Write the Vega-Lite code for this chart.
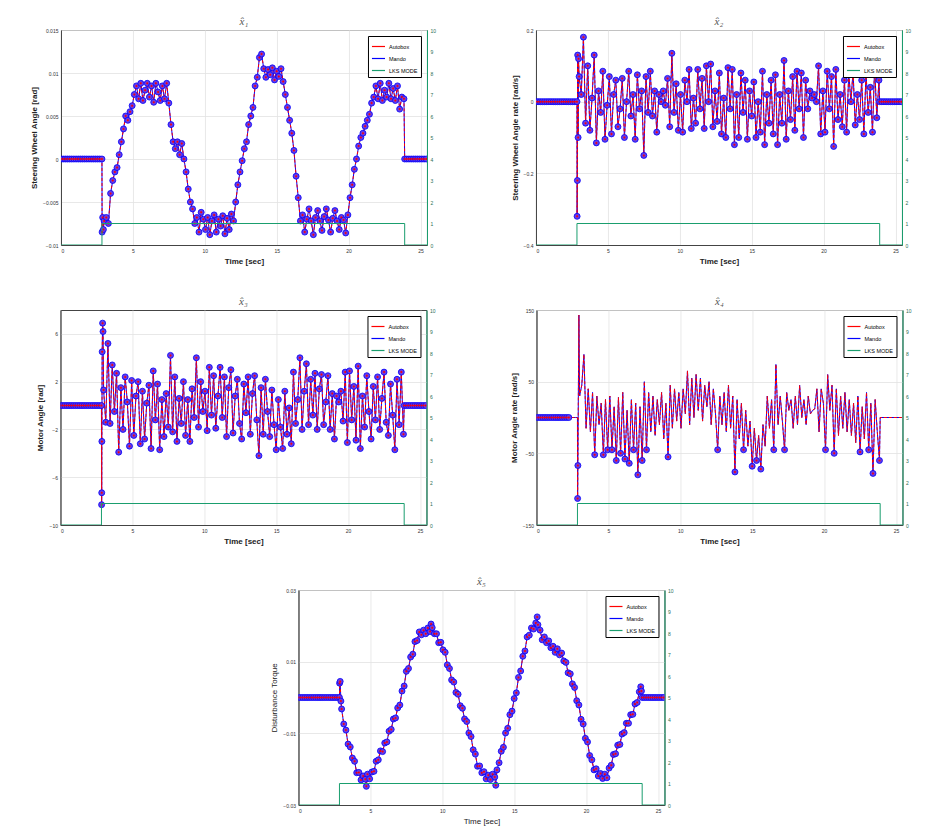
{
"$schema":"https://vega.github.io/schema/vega-lite/v6.json",
"background":"white",
"padding":{"left":30,"top":15,"right":5,"bottom":5},
"config":{"font":"Liberation Sans","view":{"stroke":"#444","strokeWidth":1},
"axis":{"labelFontSize":5,"labelColor":"#333","ticks":false,"labelPadding":3,"labelOverlap":false,"titleFontSize":8,"titleFontWeight":"bold","titleColor":"#222","gridColor":"#e2e2e2","gridWidth":0.8,"domainColor":"#444","titlePadding":4},
"legend":{"orient":"top-right","offset":6,"padding":3,"strokeColor":"#000","fillColor":"#fff","labelFontSize":5.5,"symbolType":"stroke","symbolSize":170,"symbolStrokeWidth":1.2,"rowPadding":1,"labelOffset":3},
"title":{"font":"Liberation Serif","fontStyle":"italic","fontSize":11,"fontWeight":"normal","color":"#555","offset":1}},
"datasets":{
"lks":[{"t":0,"m":0},{"t":2.85,"m":1},{"t":23.9,"m":0},{"t":25.45,"m":0}],
"p1":[{"t":0,"v":0},{"t":0.15,"v":0},{"t":0.3,"v":0},{"t":0.45,"v":0},{"t":0.6,"v":0},{"t":0.75,"v":0},{"t":0.9,"v":0},{"t":1.05,"v":0},{"t":1.2,"v":0},{"t":1.35,"v":0},{"t":1.5,"v":0},{"t":1.65,"v":0},{"t":1.8,"v":0},{"t":1.95,"v":0},{"t":2.1,"v":0},{"t":2.25,"v":0},{"t":2.4,"v":0},{"t":2.55,"v":0},{"t":2.7,"v":0},{"t":2.85,"v":0},
{"t":2.86,"v":-0.0085},{"t":2.9,"v":-0.0068},{"t":2.95,"v":-0.0082},
{"t":3.0,"v":-0.0072},{"t":3.15,"v":-0.0068},{"t":3.3,"v":-0.0075},{"t":3.45,"v":-0.004},{"t":3.6,"v":-0.0025},{"t":3.75,"v":-0.0015},{"t":3.9,"v":-0.001},{"t":4.05,"v":0.0005},{"t":4.2,"v":0.002},{"t":4.35,"v":0.0035},{"t":4.5,"v":0.005},{"t":4.65,"v":0.0045},{"t":4.8,"v":0.0055},{"t":4.95,"v":0.0062},
{"t":5.1,"v":0.0075},{"t":5.25,"v":0.0085},{"t":5.4,"v":0.007},{"t":5.55,"v":0.0088},{"t":5.7,"v":0.0068},{"t":5.85,"v":0.008},{"t":6.0,"v":0.0088},{"t":6.15,"v":0.0072},{"t":6.3,"v":0.0085},{"t":6.45,"v":0.0066},{"t":6.6,"v":0.0088},{"t":6.75,"v":0.0078},{"t":6.9,"v":0.0068},{"t":7.05,"v":0.0085},{"t":7.2,"v":0.007},{"t":7.35,"v":0.0088},{"t":7.5,"v":0.0065},{"t":7.65,"v":0.004},{"t":7.8,"v":0.002},{"t":7.95,"v":0.0012},
{"t":8.1,"v":0.002},{"t":8.25,"v":0.0005},{"t":8.4,"v":0.0018},{"t":8.55,"v":0},{"t":8.7,"v":-0.0015},{"t":8.85,"v":-0.0035},{"t":9.0,"v":-0.005},{"t":9.15,"v":-0.0058},{"t":9.3,"v":-0.0075},{"t":9.45,"v":-0.0068},{"t":9.6,"v":-0.0085},{"t":9.75,"v":-0.0062},{"t":9.9,"v":-0.007},{"t":10.05,"v":-0.0082},{"t":10.2,"v":-0.0068},{"t":10.35,"v":-0.0088},{"t":10.5,"v":-0.0072},{"t":10.65,"v":-0.0065},{"t":10.8,"v":-0.0085},{"t":10.95,"v":-0.007},
{"t":11.1,"v":-0.0078},{"t":11.25,"v":-0.0066},{"t":11.4,"v":-0.0087},{"t":11.55,"v":-0.0069},{"t":11.7,"v":-0.0082},{"t":11.85,"v":-0.0064},{"t":12.0,"v":-0.0072},{"t":12.15,"v":-0.005},{"t":12.3,"v":-0.003},{"t":12.45,"v":-0.0015},{"t":12.6,"v":-0.0002},{"t":12.75,"v":0.0012},{"t":12.9,"v":0.002},{"t":13.05,"v":0.004},{"t":13.2,"v":0.005},{"t":13.35,"v":0.006},{"t":13.5,"v":0.0085},{"t":13.65,"v":0.0095},{"t":13.8,"v":0.0118},{"t":13.95,"v":0.0122},
{"t":14.1,"v":0.0105},{"t":14.25,"v":0.0095},{"t":14.4,"v":0.0104},{"t":14.55,"v":0.0098},{"t":14.7,"v":0.0106},{"t":14.85,"v":0.0092},{"t":15.0,"v":0.0102},{"t":15.15,"v":0.0096},{"t":15.3,"v":0.0105},{"t":15.45,"v":0.009},{"t":15.6,"v":0.0075},{"t":15.75,"v":0.006},{"t":15.9,"v":0.0045},{"t":16.05,"v":0.003},{"t":16.2,"v":0.001},{"t":16.35,"v":-0.002},{"t":16.5,"v":-0.0045},{"t":16.65,"v":-0.0072},{"t":16.8,"v":-0.0065},{"t":16.95,"v":-0.0085},
{"t":17.1,"v":-0.007},{"t":17.25,"v":-0.0058},{"t":17.4,"v":-0.0072},{"t":17.55,"v":-0.0088},{"t":17.7,"v":-0.0068},{"t":17.85,"v":-0.006},{"t":18.0,"v":-0.0072},{"t":18.15,"v":-0.0083},{"t":18.3,"v":-0.0067},{"t":18.45,"v":-0.0058},{"t":18.6,"v":-0.0071},{"t":18.75,"v":-0.0085},{"t":18.9,"v":-0.0069},{"t":19.05,"v":-0.006},{"t":19.2,"v":-0.0072},{"t":19.35,"v":-0.0082},{"t":19.5,"v":-0.0068},{"t":19.65,"v":-0.0071},{"t":19.8,"v":-0.0086},{"t":19.95,"v":-0.0065},
{"t":20.1,"v":-0.0045},{"t":20.25,"v":-0.003},{"t":20.4,"v":-0.0012},{"t":20.55,"v":0},{"t":20.7,"v":0.0015},{"t":20.85,"v":0.0025},{"t":21.0,"v":0.003},{"t":21.15,"v":0.0038},{"t":21.3,"v":0.0045},{"t":21.45,"v":0.0052},{"t":21.6,"v":0.0065},{"t":21.75,"v":0.0072},{"t":21.9,"v":0.0085},{"t":22.05,"v":0.007},{"t":22.2,"v":0.0088},{"t":22.35,"v":0.0068},{"t":22.5,"v":0.008},{"t":22.65,"v":0.0072},{"t":22.8,"v":0.0088},{"t":22.95,"v":0.007},
{"t":23.1,"v":0.0082},{"t":23.25,"v":0.0068},{"t":23.4,"v":0.0085},{"t":23.55,"v":0.0058},{"t":23.7,"v":0.0072},{"t":23.85,"v":0.007},
{"t":23.9,"v":0},{"t":24.05,"v":0},{"t":24.2,"v":0},{"t":24.35,"v":0},{"t":24.5,"v":0},{"t":24.65,"v":0},{"t":24.8,"v":0},{"t":24.95,"v":0},{"t":25.1,"v":0},{"t":25.25,"v":0},{"t":25.4,"v":0}],
"p2":[{"t":0,"v":0},{"t":0.15,"v":0},{"t":0.3,"v":0},{"t":0.45,"v":0},{"t":0.6,"v":0},{"t":0.75,"v":0},{"t":0.9,"v":0},{"t":1.05,"v":0},{"t":1.2,"v":0},{"t":1.35,"v":0},{"t":1.5,"v":0},{"t":1.65,"v":0},{"t":1.8,"v":0},{"t":1.95,"v":0},{"t":2.1,"v":0},{"t":2.25,"v":0},{"t":2.4,"v":0},{"t":2.55,"v":0},{"t":2.7,"v":0},{"t":2.85,"v":0},
{"t":2.86,"v":-0.32},{"t":2.88,"v":-0.22},{"t":2.9,"v":0.13},{"t":2.93,"v":-0.1},{"t":2.96,"v":0.12},
{"t":3.0,"v":0.07},{"t":3.15,"v":0.02},{"t":3.3,"v":0.18},{"t":3.45,"v":-0.06},{"t":3.6,"v":0.1},{"t":3.75,"v":-0.08},{"t":3.9,"v":0.01},{"t":4.05,"v":0.13},{"t":4.2,"v":-0.115},{"t":4.35,"v":0.03},{"t":4.5,"v":-0.03},{"t":4.65,"v":0.085},{"t":4.8,"v":-0.105},{"t":4.95,"v":-0.01},
{"t":5.1,"v":0.07},{"t":5.25,"v":-0.09},{"t":5.4,"v":0.02},{"t":5.55,"v":0.06},{"t":5.7,"v":-0.07},{"t":5.85,"v":-0.02},{"t":6.0,"v":0.065},{"t":6.15,"v":-0.1},{"t":6.3,"v":0},{"t":6.45,"v":0.085},{"t":6.6,"v":-0.04},{"t":6.75,"v":0.02},{"t":6.9,"v":-0.105},{"t":7.05,"v":0.075},{"t":7.2,"v":-0.02},{"t":7.35,"v":0.03},{"t":7.5,"v":-0.15},{"t":7.65,"v":0.07},{"t":7.8,"v":-0.03},{"t":7.95,"v":0.085},
{"t":8.1,"v":-0.04},{"t":8.25,"v":0.03},{"t":8.4,"v":-0.085},{"t":8.55,"v":0.02},{"t":8.7,"v":0},{"t":8.85,"v":0.03},{"t":9.0,"v":-0.01},{"t":9.15,"v":0.065},{"t":9.3,"v":-0.07},{"t":9.45,"v":0.135},{"t":9.6,"v":-0.03},{"t":9.75,"v":0.05},{"t":9.9,"v":-0.08},{"t":10.05,"v":0.02},{"t":10.2,"v":-0.085},{"t":10.35,"v":0.06},{"t":10.5,"v":0},{"t":10.65,"v":0.09},{"t":10.8,"v":-0.075},{"t":10.95,"v":0.01},
{"t":11.1,"v":-0.06},{"t":11.25,"v":0.09},{"t":11.4,"v":-0.02},{"t":11.55,"v":0.065},{"t":11.7,"v":-0.075},{"t":11.85,"v":0.1},{"t":12.0,"v":0},{"t":12.15,"v":0.105},{"t":12.3,"v":-0.07},{"t":12.45,"v":0.03},{"t":12.6,"v":-0.055},{"t":12.75,"v":0.08},{"t":12.9,"v":-0.09},{"t":13.05,"v":0.01},{"t":13.2,"v":-0.1},{"t":13.35,"v":0.095},{"t":13.5,"v":-0.02},{"t":13.65,"v":0.09},{"t":13.8,"v":-0.12},{"t":13.95,"v":0.02},
{"t":14.1,"v":-0.1},{"t":14.25,"v":0.08},{"t":14.4,"v":-0.03},{"t":14.55,"v":0.06},{"t":14.7,"v":-0.105},{"t":14.85,"v":0.03},{"t":15.0,"v":-0.04},{"t":15.15,"v":0.055},{"t":15.3,"v":-0.1},{"t":15.45,"v":0},{"t":15.6,"v":-0.085},{"t":15.75,"v":0.085},{"t":15.9,"v":-0.12},{"t":16.05,"v":0.02},{"t":16.2,"v":-0.06},{"t":16.35,"v":0.06},{"t":16.5,"v":-0.09},{"t":16.65,"v":0.075},{"t":16.8,"v":-0.12},{"t":16.95,"v":0.02},
{"t":17.1,"v":-0.06},{"t":17.25,"v":0.115},{"t":17.4,"v":-0.105},{"t":17.55,"v":0.03},{"t":17.7,"v":-0.05},{"t":17.85,"v":0.07},{"t":18.0,"v":-0.08},{"t":18.15,"v":0.085},{"t":18.3,"v":-0.02},{"t":18.45,"v":0.08},{"t":18.6,"v":-0.1},{"t":18.75,"v":0.06},{"t":18.9,"v":-0.02},{"t":19.05,"v":0.03},{"t":19.2,"v":0.01},{"t":19.35,"v":0.02},{"t":19.5,"v":0},{"t":19.65,"v":0.1},{"t":19.8,"v":-0.09},{"t":19.95,"v":0.03},
{"t":20.1,"v":-0.085},{"t":20.25,"v":0.085},{"t":20.4,"v":-0.02},{"t":20.55,"v":0.07},{"t":20.7,"v":-0.125},{"t":20.85,"v":0.09},{"t":21.0,"v":-0.05},{"t":21.15,"v":0.02},{"t":21.3,"v":-0.07},{"t":21.45,"v":0.06},{"t":21.6,"v":-0.085},{"t":21.75,"v":0.08},{"t":21.9,"v":0},{"t":22.05,"v":0.085},{"t":22.2,"v":-0.065},{"t":22.35,"v":0.02},{"t":22.5,"v":-0.05},{"t":22.65,"v":0.06},{"t":22.8,"v":-0.09},{"t":22.95,"v":0.08},
{"t":23.1,"v":-0.03},{"t":23.25,"v":0.04},{"t":23.4,"v":-0.085},{"t":23.55,"v":0.1},{"t":23.7,"v":-0.045},{"t":23.85,"v":0.06},
{"t":23.9,"v":0},{"t":24.05,"v":0},{"t":24.2,"v":0},{"t":24.35,"v":0},{"t":24.5,"v":0},{"t":24.65,"v":0},{"t":24.8,"v":0},{"t":24.95,"v":0},{"t":25.1,"v":0},{"t":25.25,"v":0},{"t":25.4,"v":0}],
"p3":[{"t":0,"v":0},{"t":0.15,"v":0},{"t":0.3,"v":0},{"t":0.45,"v":0},{"t":0.6,"v":0},{"t":0.75,"v":0},{"t":0.9,"v":0},{"t":1.05,"v":0},{"t":1.2,"v":0},{"t":1.35,"v":0},{"t":1.5,"v":0},{"t":1.65,"v":0},{"t":1.8,"v":0},{"t":1.95,"v":0},{"t":2.1,"v":0},{"t":2.25,"v":0},{"t":2.4,"v":0},{"t":2.55,"v":0},{"t":2.7,"v":0},{"t":2.85,"v":0},
{"t":2.86,"v":-8.3},{"t":2.87,"v":-7.3},{"t":2.88,"v":-3.0},{"t":2.9,"v":4.5},{"t":2.93,"v":6.9},{"t":2.96,"v":6.2},
{"t":3.0,"v":1.3},{"t":3.15,"v":-1.4},{"t":3.3,"v":5.2},{"t":3.45,"v":-1.5},{"t":3.6,"v":3.4},{"t":3.75,"v":-0.5},{"t":3.9,"v":2.7},{"t":4.05,"v":-3.9},{"t":4.2,"v":1.5},{"t":4.35,"v":-2.0},{"t":4.5,"v":2.4},{"t":4.65,"v":0.3},{"t":4.8,"v":-3.4},{"t":4.95,"v":2.1},
{"t":5.1,"v":-2.5},{"t":5.25,"v":0.8},{"t":5.4,"v":2.0},{"t":5.55,"v":-3.2},{"t":5.7,"v":1.2},{"t":5.85,"v":-2.8},{"t":6.0,"v":0.2},{"t":6.15,"v":1.7},{"t":6.3,"v":-3.6},{"t":6.45,"v":2.9},{"t":6.6,"v":-1.2},{"t":6.75,"v":1.8},{"t":6.9,"v":-3.7},{"t":7.05,"v":0.5},{"t":7.2,"v":-2.6},{"t":7.35,"v":1.0},{"t":7.5,"v":-1.8},{"t":7.65,"v":4.2},{"t":7.8,"v":-2.2},{"t":7.95,"v":2.4},
{"t":8.1,"v":-3.0},{"t":8.25,"v":0.6},{"t":8.4,"v":-1.5},{"t":8.55,"v":2.0},{"t":8.7,"v":-2.5},{"t":8.85,"v":0.5},{"t":9.0,"v":-3.0},{"t":9.15,"v":1.4},{"t":9.3,"v":-1.0},{"t":9.45,"v":4.0},{"t":9.6,"v":-1.8},{"t":9.75,"v":2.0},{"t":9.9,"v":-0.5},{"t":10.05,"v":1.2},{"t":10.2,"v":-2.1},{"t":10.35,"v":3.2},{"t":10.5,"v":-0.8},{"t":10.65,"v":2.5},{"t":10.8,"v":-1.9},{"t":10.95,"v":0.8},
{"t":11.1,"v":3.2},{"t":11.25,"v":-1.0},{"t":11.4,"v":2.4},{"t":11.55,"v":-2.6},{"t":11.7,"v":1.5},{"t":11.85,"v":3.0},{"t":12.0,"v":-2.3},{"t":12.15,"v":0.8},{"t":12.3,"v":2.2},{"t":12.45,"v":-1.5},{"t":12.6,"v":-2.8},{"t":12.75,"v":1.8},{"t":12.9,"v":-0.6},{"t":13.05,"v":2.4},{"t":13.2,"v":-2.4},{"t":13.35,"v":1.0},{"t":13.5,"v":2.5},{"t":13.65,"v":-1.2},{"t":13.8,"v":-4.2},{"t":13.95,"v":1.5},
{"t":14.1,"v":-2.4},{"t":14.25,"v":2.2},{"t":14.4,"v":-0.5},{"t":14.55,"v":-2.6},{"t":14.7,"v":1.3},{"t":14.85,"v":-1.6},{"t":15.0,"v":-3.7},{"t":15.15,"v":0.5},{"t":15.3,"v":-1.8},{"t":15.45,"v":-3.6},{"t":15.6,"v":1.2},{"t":15.75,"v":-2.4},{"t":15.9,"v":-0.2},{"t":16.05,"v":-3.2},{"t":16.2,"v":2.8},{"t":16.35,"v":-1.5},{"t":16.5,"v":0.5},{"t":16.65,"v":4.0},{"t":16.8,"v":-2.0},{"t":16.95,"v":1.2},
{"t":17.1,"v":3.5},{"t":17.25,"v":-1.6},{"t":17.4,"v":2.2},{"t":17.55,"v":-0.8},{"t":17.7,"v":2.7},{"t":17.85,"v":-2.0},{"t":18.0,"v":1.4},{"t":18.15,"v":2.6},{"t":18.3,"v":-1.6},{"t":18.45,"v":0.3},{"t":18.6,"v":2.5},{"t":18.75,"v":-2.0},{"t":18.9,"v":1.0},{"t":19.05,"v":-2.8},{"t":19.2,"v":0.8},{"t":19.35,"v":0.3},{"t":19.5,"v":1.2},{"t":19.65,"v":-1.3},{"t":19.8,"v":2.8},{"t":19.95,"v":-3.1},
{"t":20.1,"v":2.9},{"t":20.25,"v":-1.2},{"t":20.4,"v":1.6},{"t":20.55,"v":-2.9},{"t":20.7,"v":3.3},{"t":20.85,"v":-3.6},{"t":21.0,"v":0.8},{"t":21.15,"v":-1.8},{"t":21.3,"v":2.5},{"t":21.45,"v":-0.5},{"t":21.6,"v":-2.8},{"t":21.75,"v":1.6},{"t":21.9,"v":-1.2},{"t":22.05,"v":2.4},{"t":22.2,"v":-2.0},{"t":22.35,"v":0.6},{"t":22.5,"v":2.8},{"t":22.65,"v":-1.4},{"t":22.8,"v":-2.5},{"t":22.95,"v":1.8},
{"t":23.1,"v":-0.8},{"t":23.25,"v":-3.7},{"t":23.4,"v":2.2},{"t":23.55,"v":-1.6},{"t":23.7,"v":2.8},{"t":23.85,"v":-2.4},
{"t":23.9,"v":0},{"t":24.05,"v":0},{"t":24.2,"v":0},{"t":24.35,"v":0},{"t":24.5,"v":0},{"t":24.65,"v":0},{"t":24.8,"v":0},{"t":24.95,"v":0},{"t":25.1,"v":0},{"t":25.25,"v":0},{"t":25.4,"v":0}],
"p4":[{"t":0,"v":0},{"t":0.15,"v":0},{"t":0.3,"v":0},{"t":0.45,"v":0},{"t":0.6,"v":0},{"t":0.75,"v":0},{"t":0.9,"v":0},{"t":1.05,"v":0},{"t":1.2,"v":0},{"t":1.35,"v":0},{"t":1.5,"v":0},{"t":1.65,"v":0},{"t":1.8,"v":0},{"t":1.95,"v":0},{"t":2.1,"v":0},{"t":2.25,"v":0},{"t":2.4,"v":0},{"t":2.55,"v":0},{"t":2.7,"v":0},{"t":2.85,"v":0},
{"t":2.86,"v":-113},{"t":2.88,"v":-67},{"t":2.95,"v":143},
{"t":3.0,"v":30},{"t":3.15,"v":45},{"t":3.3,"v":88},{"t":3.45,"v":-15},{"t":3.6,"v":40},{"t":3.75,"v":-20},{"t":3.9,"v":35},{"t":4.05,"v":-52},{"t":4.2,"v":30},{"t":4.35,"v":-10},{"t":4.5,"v":20},{"t":4.65,"v":-52},{"t":4.8,"v":25},{"t":4.95,"v":-45},
{"t":5.1,"v":30},{"t":5.25,"v":-45},{"t":5.4,"v":15},{"t":5.55,"v":-60},{"t":5.7,"v":28},{"t":5.85,"v":-50},{"t":6.0,"v":35},{"t":6.15,"v":-58},{"t":6.3,"v":10},{"t":6.45,"v":-64},{"t":6.6,"v":25},{"t":6.75,"v":-45},{"t":6.9,"v":20},{"t":7.05,"v":-80},{"t":7.2,"v":15},{"t":7.35,"v":-60},{"t":7.5,"v":50},{"t":7.65,"v":-45},{"t":7.8,"v":35},{"t":7.95,"v":-20},
{"t":8.1,"v":30},{"t":8.25,"v":-25},{"t":8.4,"v":25},{"t":8.55,"v":-10},{"t":8.7,"v":35},{"t":8.85,"v":-30},{"t":9.0,"v":20},{"t":9.15,"v":-55},{"t":9.3,"v":45},{"t":9.45,"v":-15},{"t":9.6,"v":40},{"t":9.75,"v":-5},{"t":9.9,"v":35},{"t":10.05,"v":-15},{"t":10.2,"v":40},{"t":10.35,"v":5},{"t":10.5,"v":65},{"t":10.65,"v":-10},{"t":10.8,"v":55},{"t":10.95,"v":0},
{"t":11.1,"v":60},{"t":11.25,"v":10},{"t":11.4,"v":55},{"t":11.55,"v":-5},{"t":11.7,"v":45},{"t":11.85,"v":15},{"t":12.0,"v":50},{"t":12.15,"v":-10},{"t":12.3,"v":40},{"t":12.45,"v":5},{"t":12.6,"v":-45},{"t":12.75,"v":30},{"t":12.9,"v":-10},{"t":13.05,"v":35},{"t":13.2,"v":-20},{"t":13.35,"v":45},{"t":13.5,"v":-15},{"t":13.65,"v":30},{"t":13.8,"v":-76},{"t":13.95,"v":25},
{"t":14.1,"v":-30},{"t":14.25,"v":20},{"t":14.4,"v":-45},{"t":14.55,"v":10},{"t":14.7,"v":-40},{"t":14.85,"v":-5},{"t":15.0,"v":-68},{"t":15.15,"v":-15},{"t":15.3,"v":-60},{"t":15.45,"v":-25},{"t":15.6,"v":-72},{"t":15.75,"v":-10},{"t":15.9,"v":-40},{"t":16.05,"v":30},{"t":16.2,"v":-15},{"t":16.35,"v":25},{"t":16.5,"v":-45},{"t":16.65,"v":74},{"t":16.8,"v":-10},{"t":16.95,"v":30},
{"t":17.1,"v":-5},{"t":17.25,"v":-45},{"t":17.4,"v":35},{"t":17.55,"v":10},{"t":17.7,"v":25},{"t":17.85,"v":-15},{"t":18.0,"v":30},{"t":18.15,"v":-10},{"t":18.3,"v":45},{"t":18.45,"v":0},{"t":18.6,"v":25},{"t":18.75,"v":-10},{"t":18.9,"v":30},{"t":19.05,"v":5},{"t":19.2,"v":10},{"t":19.35,"v":12},{"t":19.5,"v":40},{"t":19.65,"v":-20},{"t":19.8,"v":40},{"t":19.95,"v":20},
{"t":20.1,"v":-45},{"t":20.25,"v":60},{"t":20.4,"v":10},{"t":20.55,"v":45},{"t":20.7,"v":-50},{"t":20.85,"v":40},{"t":21.0,"v":-25},{"t":21.15,"v":30},{"t":21.3,"v":-15},{"t":21.45,"v":35},{"t":21.6,"v":-20},{"t":21.75,"v":25},{"t":21.9,"v":-25},{"t":22.05,"v":20},{"t":22.2,"v":-35},{"t":22.35,"v":30},{"t":22.5,"v":-48},{"t":22.65,"v":15},{"t":22.8,"v":-30},{"t":22.95,"v":35},
{"t":23.1,"v":-45},{"t":23.25,"v":20},{"t":23.4,"v":-78},{"t":23.55,"v":25},{"t":23.7,"v":-20},{"t":23.85,"v":-60},
{"t":23.9,"v":0},{"t":25.4,"v":0}],
"p5":[{"t":0,"v":0},{"t":0.15,"v":0},{"t":0.3,"v":0},{"t":0.45,"v":0},{"t":0.6,"v":0},{"t":0.75,"v":0},{"t":0.9,"v":0},{"t":1.05,"v":0},{"t":1.2,"v":0},{"t":1.35,"v":0},{"t":1.5,"v":0},{"t":1.65,"v":0},{"t":1.8,"v":0},{"t":1.95,"v":0},{"t":2.1,"v":0},{"t":2.25,"v":0},{"t":2.4,"v":0},{"t":2.55,"v":0},{"t":2.7,"v":0},{"t":2.85,"v":0},
{"t":2.86,"v":0.004},{"t":2.9,"v":0.0045},{"t":2.95,"v":-0.001},
{"t":3.0,"v":-0.0032},{"t":3.15,"v":-0.0074},{"t":3.3,"v":-0.0091},{"t":3.45,"v":-0.013},{"t":3.6,"v":-0.0138},{"t":3.75,"v":-0.0169},{"t":3.9,"v":-0.0178},{"t":4.05,"v":-0.021},{"t":4.2,"v":-0.0209},{"t":4.35,"v":-0.023},{"t":4.5,"v":-0.0219},{"t":4.65,"v":-0.0228},{"t":4.72,"v":-0.0248},{"t":4.8,"v":-0.0214},{"t":4.95,"v":-0.0227},
{"t":5.1,"v":-0.0208},{"t":5.25,"v":-0.0206},{"t":5.4,"v":-0.0178},{"t":5.55,"v":-0.0174},{"t":5.7,"v":-0.0149},{"t":5.85,"v":-0.0151},{"t":6.0,"v":-0.0127},{"t":6.15,"v":-0.0124},{"t":6.3,"v":-0.0094},{"t":6.45,"v":-0.0089},{"t":6.6,"v":-0.006},{"t":6.75,"v":-0.0057},{"t":6.9,"v":-0.0029},{"t":7.05,"v":-0.0021},{"t":7.2,"v":0.0018},{"t":7.35,"v":0.0032},{"t":7.5,"v":0.0073},{"t":7.65,"v":0.0081},{"t":7.8,"v":0.0113},{"t":7.95,"v":0.0121},
{"t":8.1,"v":0.0156},{"t":8.25,"v":0.0159},{"t":8.4,"v":0.0183},{"t":8.55,"v":0.0175},{"t":8.7,"v":0.0188},{"t":8.85,"v":0.0178},{"t":9.0,"v":0.0194},{"t":9.15,"v":0.0184},{"t":9.22,"v":0.0205},{"t":9.3,"v":0.0195},{"t":9.45,"v":0.0178},{"t":9.6,"v":0.0178},{"t":9.75,"v":0.0153},{"t":9.9,"v":0.0154},{"t":10.05,"v":0.0133},{"t":10.2,"v":0.0126},{"t":10.35,"v":0.0091},{"t":10.5,"v":0.0081},{"t":10.65,"v":0.0049},{"t":10.8,"v":0.0043},{"t":10.95,"v":0.0014},
{"t":11.1,"v":0.0009},{"t":11.25,"v":-0.0023},{"t":11.4,"v":-0.003},{"t":11.55,"v":-0.006},{"t":11.7,"v":-0.0067},{"t":11.85,"v":-0.0099},{"t":12.0,"v":-0.0109},{"t":12.15,"v":-0.0146},{"t":12.3,"v":-0.0158},{"t":12.45,"v":-0.0192},{"t":12.6,"v":-0.0191},{"t":12.75,"v":-0.021},{"t":12.9,"v":-0.0207},{"t":13.05,"v":-0.0227},{"t":13.2,"v":-0.0217},{"t":13.35,"v":-0.0229},{"t":13.5,"v":-0.0214},{"t":13.65,"v":-0.0222},{"t":13.72,"v":-0.0245},{"t":13.8,"v":-0.0202},{"t":13.95,"v":-0.0182},
{"t":14.1,"v":-0.015},{"t":14.25,"v":-0.0139},{"t":14.4,"v":-0.0099},{"t":14.55,"v":-0.0086},{"t":14.7,"v":-0.0048},{"t":14.85,"v":-0.0038},{"t":15.0,"v":-0.0003},{"t":15.15,"v":0.0013},{"t":15.3,"v":0.0056},{"t":15.45,"v":0.0074},{"t":15.6,"v":0.0115},{"t":15.75,"v":0.013},{"t":15.9,"v":0.0169},{"t":16.05,"v":0.0174},{"t":16.2,"v":0.0194},{"t":16.35,"v":0.0191},{"t":16.5,"v":0.0208},{"t":16.6,"v":0.0225},{"t":16.65,"v":0.0203},{"t":16.8,"v":0.0188},{"t":16.95,"v":0.0161},
{"t":17.1,"v":0.0169},{"t":17.25,"v":0.0153},{"t":17.4,"v":0.0158},{"t":17.55,"v":0.0139},{"t":17.7,"v":0.0143},{"t":17.85,"v":0.0126},{"t":18.0,"v":0.0136},{"t":18.15,"v":0.0119},{"t":18.3,"v":0.0124},{"t":18.45,"v":0.0102},{"t":18.6,"v":0.0098},{"t":18.75,"v":0.0069},{"t":18.9,"v":0.0066},{"t":19.05,"v":0.0038},{"t":19.2,"v":0.0028},{"t":19.35,"v":-0.0009},{"t":19.5,"v":-0.0021},{"t":19.65,"v":-0.0061},{"t":19.8,"v":-0.0074},{"t":19.95,"v":-0.0114},
{"t":20.1,"v":-0.0124},{"t":20.25,"v":-0.0162},{"t":20.4,"v":-0.0174},{"t":20.55,"v":-0.0202},{"t":20.7,"v":-0.0199},{"t":20.85,"v":-0.0219},{"t":21.0,"v":-0.0212},{"t":21.15,"v":-0.0226},{"t":21.3,"v":-0.0214},{"t":21.45,"v":-0.0224},{"t":21.6,"v":-0.0197},{"t":21.75,"v":-0.0189},{"t":21.9,"v":-0.0159},{"t":22.05,"v":-0.0157},{"t":22.2,"v":-0.0133},{"t":22.35,"v":-0.0131},{"t":22.5,"v":-0.0102},{"t":22.65,"v":-0.0098},{"t":22.8,"v":-0.0072},{"t":22.95,"v":-0.0072},
{"t":23.1,"v":-0.0048},{"t":23.25,"v":-0.0047},{"t":23.4,"v":-0.0018},{"t":23.55,"v":-0.0014},{"t":23.7,"v":0.0016},{"t":23.8,"v":0.003},{"t":23.85,"v":0.0018},
{"t":23.9,"v":0},{"t":24.05,"v":0},{"t":24.2,"v":0},{"t":24.35,"v":0},{"t":24.5,"v":0},{"t":24.65,"v":0},{"t":24.8,"v":0},{"t":24.95,"v":0},{"t":25.1,"v":0},{"t":25.25,"v":0},{"t":25.4,"v":0}]
},
"vconcat":[
{"hconcat":[
{"width":366,"height":215,"title":{"text":"x̂₁"},
"layer":[
{"data":{"name":"p1"},"layer":[
{"mark":{"type":"line","strokeWidth":1,"clip":true},"encoding":{"x":{"field":"t","type":"quantitative","scale":{"domain":[0,25.45],"nice":false},"axis":{"values":[0,5,10,15,20,25],"title":"Time [sec]"}},"y":{"field":"v","type":"quantitative","scale":{"domain":[-0.01,0.015],"nice":false,"zero":false},"axis":{"values":[-0.01,-0.005,0,0.005,0.01,0.015],"format":".3~f","title":"Steering Wheel Angle [rad]"}},"color":{"datum":"Mando","scale":{"domain":["Autobox","Mando","LKS MODE"],"range":["#ff0000","#0000ff","#1a9e6e"]},"legend":{"title":null}}}},
{"mark":{"type":"line","strokeWidth":1,"strokeDash":[3,2],"clip":true},"encoding":{"x":{"field":"t","type":"quantitative"},"y":{"field":"v","type":"quantitative"},"color":{"datum":"Autobox"}}},
{"mark":{"type":"point","shape":"circle","filled":true,"size":36,"fill":"#6a3ce0","stroke":"#0000ff","strokeWidth":0.8,"opacity":1,"clip":true},"encoding":{"x":{"field":"t","type":"quantitative"},"y":{"field":"v","type":"quantitative"}}},
{"mark":{"type":"point","shape":"circle","filled":true,"size":4,"color":"#ff0000","opacity":1,"clip":true},"encoding":{"x":{"field":"t","type":"quantitative"},"y":{"field":"v","type":"quantitative"}}}
]},
{"data":{"name":"lks"},"mark":{"type":"line","interpolate":"step-after","strokeWidth":1,"clip":true},"encoding":{"x":{"field":"t","type":"quantitative"},"y":{"field":"m","type":"quantitative","scale":{"domain":[0,10],"nice":false},"axis":{"orient":"right","values":[0,1,2,3,4,5,6,7,8,9,10],"format":"d","title":null,"grid":false,"domainColor":"#1a9e6e","labelColor":"#2d6f55"}},"color":{"datum":"LKS MODE"}}}
],"resolve":{"scale":{"y":"independent"}}},
{"width":366,"height":215,"title":{"text":"x̂₂"},
"layer":[
{"data":{"name":"p2"},"layer":[
{"mark":{"type":"line","strokeWidth":1,"clip":true},"encoding":{"x":{"field":"t","type":"quantitative","scale":{"domain":[0,25.45],"nice":false},"axis":{"values":[0,5,10,15,20,25],"title":"Time [sec]"}},"y":{"field":"v","type":"quantitative","scale":{"domain":[-0.4,0.2],"nice":false,"zero":false},"axis":{"values":[-0.4,-0.3,-0.2,-0.1,0,0.1,0.2],"format":".1~f","title":"Steering Wheel Angle rate  [rad/s]"}},"color":{"datum":"Mando","scale":{"domain":["Autobox","Mando","LKS MODE"],"range":["#ff0000","#0000ff","#1a9e6e"]},"legend":{"title":null}}}},
{"mark":{"type":"line","strokeWidth":1,"strokeDash":[3,2],"clip":true},"encoding":{"x":{"field":"t","type":"quantitative"},"y":{"field":"v","type":"quantitative"},"color":{"datum":"Autobox"}}},
{"mark":{"type":"point","shape":"circle","filled":true,"size":36,"fill":"#6a3ce0","stroke":"#0000ff","strokeWidth":0.8,"opacity":1,"clip":true},"encoding":{"x":{"field":"t","type":"quantitative"},"y":{"field":"v","type":"quantitative"}}},
{"mark":{"type":"point","shape":"circle","filled":true,"size":4,"color":"#ff0000","opacity":1,"clip":true},"encoding":{"x":{"field":"t","type":"quantitative"},"y":{"field":"v","type":"quantitative"}}}
]},
{"data":{"name":"lks"},"mark":{"type":"line","interpolate":"step-after","strokeWidth":1,"clip":true},"encoding":{"x":{"field":"t","type":"quantitative"},"y":{"field":"m","type":"quantitative","scale":{"domain":[0,10],"nice":false},"axis":{"orient":"right","values":[0,1,2,3,4,5,6,7,8,9,10],"format":"d","title":null,"grid":false,"domainColor":"#1a9e6e","labelColor":"#2d6f55"}},"color":{"datum":"LKS MODE"}}}
],"resolve":{"scale":{"y":"independent"}}}
],"spacing":73,"resolve":{"scale":{"color":"independent"},"legend":{"color":"independent"}}},
{"hconcat":[
{"width":366,"height":215,"title":{"text":"x̂₃"},
"layer":[
{"data":{"name":"p3"},"layer":[
{"mark":{"type":"line","strokeWidth":1,"clip":true},"encoding":{"x":{"field":"t","type":"quantitative","scale":{"domain":[0,25.45],"nice":false},"axis":{"values":[0,5,10,15,20,25],"title":"Time [sec]"}},"y":{"field":"v","type":"quantitative","scale":{"domain":[-10,8],"nice":false,"zero":false},"axis":{"values":[-10,-8,-6,-4,-2,0,2,4,6,8],"format":"d","title":"Motor Angle  [rad]"}},"color":{"datum":"Mando","scale":{"domain":["Autobox","Mando","LKS MODE"],"range":["#ff0000","#0000ff","#1a9e6e"]},"legend":{"title":null}}}},
{"mark":{"type":"line","strokeWidth":1,"strokeDash":[3,2],"clip":true},"encoding":{"x":{"field":"t","type":"quantitative"},"y":{"field":"v","type":"quantitative"},"color":{"datum":"Autobox"}}},
{"mark":{"type":"point","shape":"circle","filled":true,"size":36,"fill":"#6a3ce0","stroke":"#0000ff","strokeWidth":0.8,"opacity":1,"clip":true},"encoding":{"x":{"field":"t","type":"quantitative"},"y":{"field":"v","type":"quantitative"}}},
{"mark":{"type":"point","shape":"circle","filled":true,"size":4,"color":"#ff0000","opacity":1,"clip":true},"encoding":{"x":{"field":"t","type":"quantitative"},"y":{"field":"v","type":"quantitative"}}}
]},
{"data":{"name":"lks"},"mark":{"type":"line","interpolate":"step-after","strokeWidth":1,"clip":true},"encoding":{"x":{"field":"t","type":"quantitative"},"y":{"field":"m","type":"quantitative","scale":{"domain":[0,10],"nice":false},"axis":{"orient":"right","values":[0,1,2,3,4,5,6,7,8,9,10],"format":"d","title":null,"grid":false,"domainColor":"#1a9e6e","labelColor":"#2d6f55"}},"color":{"datum":"LKS MODE"}}}
],"resolve":{"scale":{"y":"independent"}}},
{"width":366,"height":215,"title":{"text":"x̂₄"},
"layer":[
{"data":{"name":"p4"},"layer":[
{"mark":{"type":"line","strokeWidth":1,"clip":true},"encoding":{"x":{"field":"t","type":"quantitative","scale":{"domain":[0,25.45],"nice":false},"axis":{"values":[0,5,10,15,20,25],"title":"Time [sec]"}},"y":{"field":"v","type":"quantitative","scale":{"domain":[-150,150],"nice":false,"zero":false},"axis":{"values":[-150,-100,-50,0,50,100,150],"format":"d","title":"Motor Angle rate [rad/s]"}},"color":{"datum":"Mando","scale":{"domain":["Autobox","Mando","LKS MODE"],"range":["#ff0000","#0000ff","#1a9e6e"]},"legend":{"title":null}}}},
{"mark":{"type":"line","strokeWidth":1,"strokeDash":[3,2],"clip":true},"encoding":{"x":{"field":"t","type":"quantitative"},"y":{"field":"v","type":"quantitative"},"color":{"datum":"Autobox"}}},
{"transform":[{"filter":"datum.t < 2.3 || datum.v <= -44"}],"mark":{"type":"point","shape":"circle","filled":true,"size":36,"fill":"#6a3ce0","stroke":"#0000ff","strokeWidth":0.8,"opacity":1,"clip":true},"encoding":{"x":{"field":"t","type":"quantitative"},"y":{"field":"v","type":"quantitative"}}},
{"transform":[{"filter":"datum.t < 2.3 || datum.v <= -44"}],"mark":{"type":"point","shape":"circle","filled":true,"size":4,"color":"#ff0000","opacity":1,"clip":true},"encoding":{"x":{"field":"t","type":"quantitative"},"y":{"field":"v","type":"quantitative"}}}
]},
{"data":{"name":"lks"},"mark":{"type":"line","interpolate":"step-after","strokeWidth":1,"clip":true},"encoding":{"x":{"field":"t","type":"quantitative"},"y":{"field":"m","type":"quantitative","scale":{"domain":[0,10],"nice":false},"axis":{"orient":"right","values":[0,1,2,3,4,5,6,7,8,9,10],"format":"d","title":null,"grid":false,"domainColor":"#1a9e6e","labelColor":"#2d6f55"}},"color":{"datum":"LKS MODE"}}}
],"resolve":{"scale":{"y":"independent"}}}
],"spacing":73,"resolve":{"scale":{"color":"independent"},"legend":{"color":"independent"}}},
{"width":366,"height":215,"title":{"text":"x̂₅"},
"layer":[
{"data":{"name":"p5"},"layer":[
{"mark":{"type":"line","strokeWidth":1,"clip":true},"encoding":{"x":{"field":"t","type":"quantitative","scale":{"domain":[0,25.45],"nice":false},"axis":{"values":[0,5,10,15,20,25],"title":"Time [sec]","titleFontWeight":"normal"}},"y":{"field":"v","type":"quantitative","scale":{"domain":[-0.03,0.03],"nice":false,"zero":false},"axis":{"values":[-0.03,-0.02,-0.01,0,0.01,0.02,0.03],"format":".2~f","title":"Disturbance Torque","titleFontWeight":"normal"}},"color":{"datum":"Mando","scale":{"domain":["Autobox","Mando","LKS MODE"],"range":["#ff0000","#0000ff","#1a9e6e"]},"legend":{"title":null}}}},
{"mark":{"type":"line","strokeWidth":1,"strokeDash":[3,2],"clip":true},"encoding":{"x":{"field":"t","type":"quantitative"},"y":{"field":"v","type":"quantitative"},"color":{"datum":"Autobox"}}},
{"mark":{"type":"point","shape":"circle","filled":true,"size":36,"fill":"#6a3ce0","stroke":"#0000ff","strokeWidth":0.8,"opacity":1,"clip":true},"encoding":{"x":{"field":"t","type":"quantitative"},"y":{"field":"v","type":"quantitative"}}},
{"mark":{"type":"point","shape":"circle","filled":true,"size":4,"color":"#ff0000","opacity":1,"clip":true},"encoding":{"x":{"field":"t","type":"quantitative"},"y":{"field":"v","type":"quantitative"}}}
]},
{"data":{"name":"lks"},"mark":{"type":"line","interpolate":"step-after","strokeWidth":1,"clip":true},"encoding":{"x":{"field":"t","type":"quantitative"},"y":{"field":"m","type":"quantitative","scale":{"domain":[0,10],"nice":false},"axis":{"orient":"right","values":[0,1,2,3,4,5,6,7,8,9,10],"format":"d","title":null,"grid":false,"domainColor":"#1a9e6e","labelColor":"#2d6f55"}},"color":{"datum":"LKS MODE"}}}
],"resolve":{"scale":{"y":"independent"}}}
],
"spacing":29,
"center":true,
"resolve":{"scale":{"color":"independent"},"legend":{"color":"independent"}}
}
